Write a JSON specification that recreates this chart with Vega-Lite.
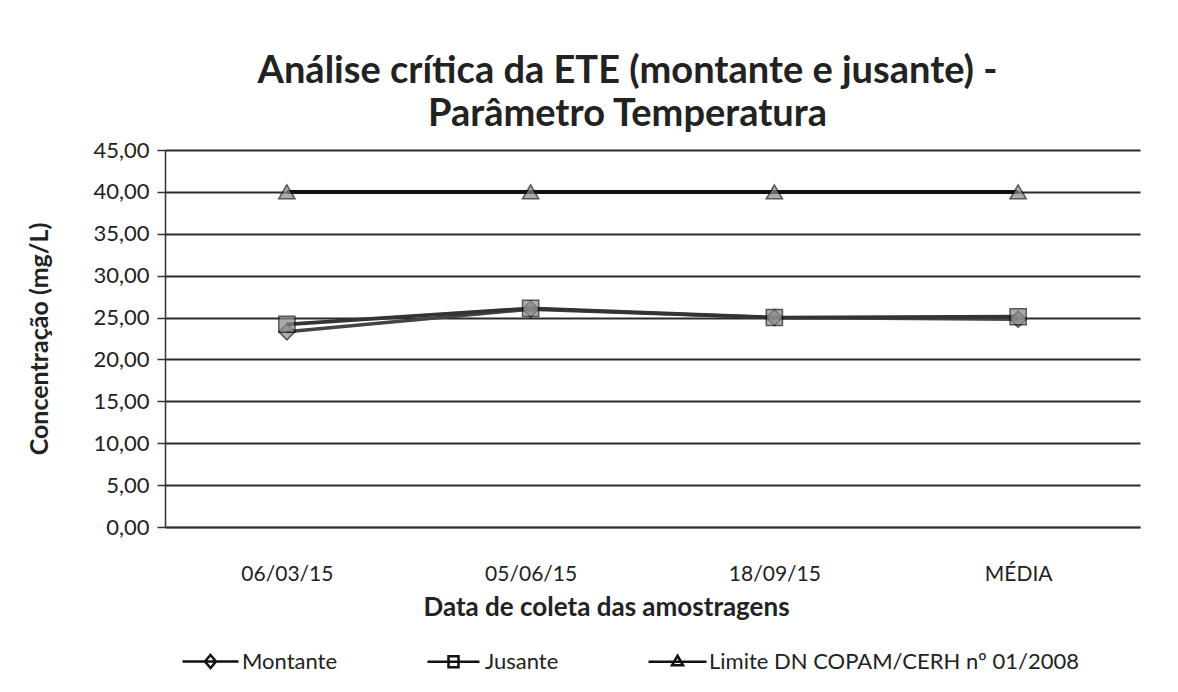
{
  "$schema": "https://vega.github.io/schema/vega-lite/v6.json",
  "width": 975,
  "height": 377,
  "autosize": {"type": "none"},
  "padding": {"left": 165, "top": 150, "right": 38, "bottom": 165},
  "background": "white",
  "title": {
    "text": ["Análise crítica da ETE (montante e jusante) -", "Parâmetro Temperatura"],
    "font": "Lato",
    "fontSize": 38,
    "fontWeight": "bold",
    "color": "#222222",
    "lineHeight": 43,
    "anchor": "middle",
    "dx": -25,
    "offset": 5
  },
  "data": {
    "values": [
      {"data": "06/03/15", "serie": "Montante", "valor": 23.3},
      {"data": "05/06/15", "serie": "Montante", "valor": 26.0},
      {"data": "18/09/15", "serie": "Montante", "valor": 25.0},
      {"data": "MÉDIA", "serie": "Montante", "valor": 24.8},
      {"data": "06/03/15", "serie": "Jusante", "valor": 24.2},
      {"data": "05/06/15", "serie": "Jusante", "valor": 26.1},
      {"data": "18/09/15", "serie": "Jusante", "valor": 25.0},
      {"data": "MÉDIA", "serie": "Jusante", "valor": 25.1},
      {"data": "06/03/15", "serie": "Limite DN COPAM/CERH nº 01/2008", "valor": 40.0},
      {"data": "05/06/15", "serie": "Limite DN COPAM/CERH nº 01/2008", "valor": 40.0},
      {"data": "18/09/15", "serie": "Limite DN COPAM/CERH nº 01/2008", "valor": 40.0},
      {"data": "MÉDIA", "serie": "Limite DN COPAM/CERH nº 01/2008", "valor": 40.0}
    ]
  },
  "encoding": {
    "x": {
      "field": "data",
      "type": "ordinal",
      "sort": ["06/03/15", "05/06/15", "18/09/15", "MÉDIA"],
      "scale": {"type": "point", "padding": 0.5},
      "axis": {
        "title": "Data de coleta das amostragens",
        "titleFont": "Lato",
        "titleFontSize": 26,
        "titleFontWeight": "bold",
        "titleColor": "#222222",
        "titlePadding": 10,
        "titleX": 441,
        "labelFont": "Lato",
        "labelFontSize": 21,
        "labelColor": "#222222",
        "labelAngle": 0,
        "labelPadding": 36,
        "ticks": false,
        "domainColor": "#333333",
        "domainWidth": 1.5,
        "grid": false
      }
    },
    "y": {
      "field": "valor",
      "type": "quantitative",
      "scale": {"domain": [0, 45], "nice": false},
      "axis": {
        "title": "Concentração (mg/L)",
        "titleFont": "Lato",
        "titleFontSize": 25,
        "titleFontWeight": "bold",
        "titleColor": "#222222",
        "titlePadding": 40,
        "values": [0, 5, 10, 15, 20, 25, 30, 35, 40, 45],
        "labelExpr": "replace(format(datum.value, '.2f'), '.', ',')",
        "labelFont": "Lato",
        "labelFontSize": 22,
        "labelColor": "#222222",
        "labelPadding": 8,
        "tickColor": "#333333",
        "tickSize": 8,
        "tickWidth": 1.5,
        "domainColor": "#333333",
        "domainWidth": 1.5,
        "grid": true,
        "gridColor": "#2a2a2a",
        "gridWidth": 1.8
      }
    }
  },
  "layer": [
    {
      "mark": {"type": "line"},
      "encoding": {
        "color": {
          "field": "serie",
          "type": "nominal",
          "scale": {
            "domain": ["Montante", "Jusante", "Limite DN COPAM/CERH nº 01/2008"],
            "range": ["#444444", "#333333", "#111111"]
          },
          "legend": null
        },
        "strokeWidth": {
          "field": "serie",
          "type": "nominal",
          "scale": {
            "domain": ["Montante", "Jusante", "Limite DN COPAM/CERH nº 01/2008"],
            "range": [3.5, 4, 6]
          },
          "legend": null
        }
      }
    },
    {
      "mark": {"type": "point", "filled": true, "size": 260, "stroke": "#111111", "strokeWidth": 1.5, "fill": "#8a8a8a"},
      "encoding": {
        "shape": {
          "field": "serie",
          "type": "nominal",
          "scale": {
            "domain": ["Montante", "Jusante", "Limite DN COPAM/CERH nº 01/2008"],
            "range": ["diamond", "square", "triangle-up"]
          },
          "legend": null
        }
      }
    },
    {
      "mark": {"type": "point", "filled": false, "size": 400, "opacity": 0, "color": "#111111", "strokeWidth": 2.5},
      "encoding": {
        "shape": {
          "field": "serie",
          "type": "nominal",
          "sort": ["Montante", "Jusante", "Limite DN COPAM/CERH nº 01/2008"],
          "scale": {
            "range": [
              "M-2.8,0L2.8,0M0,-0.65L0.55,0L0,0.65L-0.55,0Z",
              "M-2.6,0L2.6,0M-0.5,-0.55L0.5,-0.55L0.5,0.55L-0.5,0.55Z",
              "M-2.9,0L2.9,0M0,-0.6L0.55,0.35L-0.55,0.35Z"
            ]
          },
          "legend": {
            "title": null,
            "orient": "none",
            "direction": "horizontal",
            "legendX": 34,
            "legendY": 500,
            "labelFont": "Lato",
            "labelFontSize": 22,
            "labelColor": "#222222",
            "labelOffset": 20,
            "symbolSize": 400,
            "symbolStrokeColor": "#111111",
            "symbolStrokeWidth": 2.5,
            "symbolOpacity": 1,
            "columnPadding": 84,
            "labelLimit": 500,
            "encode": {
              "symbols": {
                "update": {
                  "fill": {"value": "#8a8a8a"},
                  "stroke": {"value": "#111111"},
                  "strokeWidth": {"value": 2.5},
                  "opacity": {"value": 1}
                }
              }
            }
          }
        }
      }
    }
  ],
  "resolve": {
    "scale": {"shape": "independent"},
    "legend": {"shape": "independent"}
  },
  "config": {
    "view": {"stroke": null}
  }
}
